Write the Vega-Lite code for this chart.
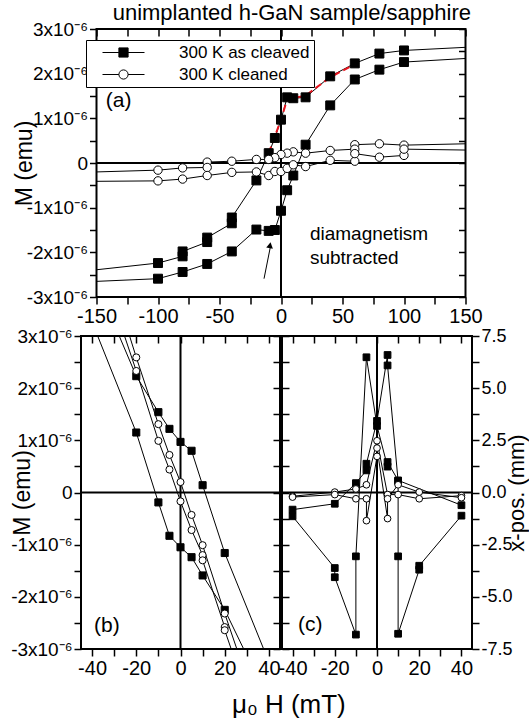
{
  "$schema": "https://vega.github.io/schema/vega-lite/v6.json",
  "padding": {"left": 9, "top": 2, "right": 0, "bottom": 2},
  "config": {
    "font": "Liberation Sans",
    "view": {"stroke": "black", "strokeWidth": 2},
    "axis": {"grid": false, "domain": false, "tickColor": "black", "tickWidth": 1.5, "tickSize": 7, "labelFont": "Liberation Sans", "labelFontSize": 20, "labelColor": "black", "labelPadding": 2, "labelFlush": false, "labelOverlap": false, "titleFont": "Liberation Sans", "titleFontSize": 23, "titleFontWeight": "normal", "titleColor": "black"},
    "axisY": {"labelFontSize": 19},
    "concat": {"spacing": 0}
  },
  "title": {"text": "unimplanted h-GaN sample/sapphire", "fontSize": 22, "fontWeight": "normal", "color": "black", "anchor": "middle", "offset": -6, "dx": 23},
  "datasets": {
    "a": [
      {"sample": "300 K as cleaved", "br": "s1", "H": 150, "M": 2.59, "meas": false},
      {"sample": "300 K as cleaved", "br": "s1", "H": 100, "M": 2.52, "meas": true},
      {"sample": "300 K as cleaved", "br": "s1", "H": 80, "M": 2.45, "meas": true},
      {"sample": "300 K as cleaved", "br": "s1", "H": 60, "M": 2.23, "meas": true},
      {"sample": "300 K as cleaved", "br": "s1", "H": 40, "M": 1.94, "meas": true},
      {"sample": "300 K as cleaved", "br": "s1", "H": 20, "M": 1.47, "meas": true},
      {"sample": "300 K as cleaved", "br": "s1", "H": 10, "M": 1.45, "meas": true},
      {"sample": "300 K as cleaved", "br": "s1", "H": 5, "M": 1.47, "meas": true},
      {"sample": "300 K as cleaved", "br": "s1", "H": 0, "M": 0.97, "meas": true},
      {"sample": "300 K as cleaved", "br": "s1", "H": -5, "M": 0.56, "meas": true},
      {"sample": "300 K as cleaved", "br": "s1", "H": -10, "M": 0.22, "meas": true},
      {"sample": "300 K as cleaved", "br": "s1", "H": -20, "M": -0.39, "meas": true},
      {"sample": "300 K as cleaved", "br": "s1", "H": -40, "M": -1.22, "meas": true},
      {"sample": "300 K as cleaved", "br": "s1", "H": -40, "M": -1.35, "meas": true},
      {"sample": "300 K as cleaved", "br": "s1", "H": -60, "M": -1.67, "meas": true},
      {"sample": "300 K as cleaved", "br": "s1", "H": -60, "M": -1.77, "meas": true},
      {"sample": "300 K as cleaved", "br": "s1", "H": -80, "M": -1.98, "meas": true},
      {"sample": "300 K as cleaved", "br": "s1", "H": -80, "M": -2.09, "meas": true},
      {"sample": "300 K as cleaved", "br": "s1", "H": -100, "M": -2.24, "meas": true},
      {"sample": "300 K as cleaved", "br": "s1", "H": -150, "M": -2.39, "meas": false},
      {"sample": "300 K as cleaved", "br": "s2", "H": -150, "M": -2.65, "meas": false},
      {"sample": "300 K as cleaved", "br": "s2", "H": -100, "M": -2.59, "meas": true},
      {"sample": "300 K as cleaved", "br": "s2", "H": -80, "M": -2.44, "meas": true},
      {"sample": "300 K as cleaved", "br": "s2", "H": -60, "M": -2.26, "meas": true},
      {"sample": "300 K as cleaved", "br": "s2", "H": -40, "M": -1.98, "meas": true},
      {"sample": "300 K as cleaved", "br": "s2", "H": -20, "M": -1.49, "meas": true},
      {"sample": "300 K as cleaved", "br": "s2", "H": -10, "M": -1.52, "meas": true},
      {"sample": "300 K as cleaved", "br": "s2", "H": -5, "M": -1.5, "meas": true},
      {"sample": "300 K as cleaved", "br": "s2", "H": 0, "M": -1.07, "meas": true},
      {"sample": "300 K as cleaved", "br": "s2", "H": 5, "M": -0.61, "meas": true},
      {"sample": "300 K as cleaved", "br": "s2", "H": 10, "M": -0.28, "meas": true},
      {"sample": "300 K as cleaved", "br": "s2", "H": 20, "M": 0.41, "meas": true},
      {"sample": "300 K as cleaved", "br": "s2", "H": 40, "M": 1.29, "meas": true},
      {"sample": "300 K as cleaved", "br": "s2", "H": 60, "M": 1.87, "meas": true},
      {"sample": "300 K as cleaved", "br": "s2", "H": 80, "M": 2.09, "meas": true},
      {"sample": "300 K as cleaved", "br": "s2", "H": 100, "M": 2.26, "meas": true},
      {"sample": "300 K as cleaved", "br": "s2", "H": 150, "M": 2.34, "meas": false},
      {"sample": "300 K cleaned", "br": "c1", "H": 150, "M": 0.43, "meas": false},
      {"sample": "300 K cleaned", "br": "c1", "H": 100, "M": 0.4, "meas": true},
      {"sample": "300 K cleaned", "br": "c1", "H": 80, "M": 0.43, "meas": true},
      {"sample": "300 K cleaned", "br": "c1", "H": 60, "M": 0.41, "meas": true},
      {"sample": "300 K cleaned", "br": "c1", "H": 60, "M": 0.31, "meas": true},
      {"sample": "300 K cleaned", "br": "c1", "H": 40, "M": 0.28, "meas": true},
      {"sample": "300 K cleaned", "br": "c1", "H": 20, "M": 0.22, "meas": true},
      {"sample": "300 K cleaned", "br": "c1", "H": 10, "M": 0.25, "meas": true},
      {"sample": "300 K cleaned", "br": "c1", "H": 5, "M": 0.22, "meas": true},
      {"sample": "300 K cleaned", "br": "c1", "H": 0, "M": 0.19, "meas": true},
      {"sample": "300 K cleaned", "br": "c1", "H": -5, "M": 0.12, "meas": true},
      {"sample": "300 K cleaned", "br": "c1", "H": -10, "M": 0.08, "meas": true},
      {"sample": "300 K cleaned", "br": "c1", "H": -20, "M": 0.08, "meas": true},
      {"sample": "300 K cleaned", "br": "c1", "H": -40, "M": 0.04, "meas": true},
      {"sample": "300 K cleaned", "br": "c1", "H": -60, "M": 0.02, "meas": true},
      {"sample": "300 K cleaned", "br": "c1", "H": -60, "M": -0.1, "meas": true},
      {"sample": "300 K cleaned", "br": "c1", "H": -80, "M": -0.11, "meas": true},
      {"sample": "300 K cleaned", "br": "c1", "H": -100, "M": -0.16, "meas": true},
      {"sample": "300 K cleaned", "br": "c1", "H": -150, "M": -0.2, "meas": false},
      {"sample": "300 K cleaned", "br": "c2", "H": -150, "M": -0.41, "meas": false},
      {"sample": "300 K cleaned", "br": "c2", "H": -100, "M": -0.4, "meas": true},
      {"sample": "300 K cleaned", "br": "c2", "H": -80, "M": -0.36, "meas": true},
      {"sample": "300 K cleaned", "br": "c2", "H": -60, "M": -0.28, "meas": true},
      {"sample": "300 K cleaned", "br": "c2", "H": -40, "M": -0.21, "meas": true},
      {"sample": "300 K cleaned", "br": "c2", "H": -20, "M": -0.2, "meas": true},
      {"sample": "300 K cleaned", "br": "c2", "H": -10, "M": -0.28, "meas": true},
      {"sample": "300 K cleaned", "br": "c2", "H": -5, "M": -0.19, "meas": true},
      {"sample": "300 K cleaned", "br": "c2", "H": 0, "M": -0.19, "meas": true},
      {"sample": "300 K cleaned", "br": "c2", "H": 5, "M": -0.12, "meas": true},
      {"sample": "300 K cleaned", "br": "c2", "H": 10, "M": -0.04, "meas": true},
      {"sample": "300 K cleaned", "br": "c2", "H": 20, "M": -0.08, "meas": true},
      {"sample": "300 K cleaned", "br": "c2", "H": 40, "M": 0.06, "meas": true},
      {"sample": "300 K cleaned", "br": "c2", "H": 60, "M": 0.04, "meas": true},
      {"sample": "300 K cleaned", "br": "c2", "H": 60, "M": 0.21, "meas": true},
      {"sample": "300 K cleaned", "br": "c2", "H": 80, "M": 0.13, "meas": true},
      {"sample": "300 K cleaned", "br": "c2", "H": 100, "M": 0.17, "meas": true},
      {"sample": "300 K cleaned", "br": "c2", "H": 100, "M": 0.31, "meas": true},
      {"sample": "300 K cleaned", "br": "c2", "H": 150, "M": 0.29, "meas": false}
    ],
    "fit": [
      {"H": -10, "M": 0.22}, {"H": 0, "M": 0.97}, {"H": 5, "M": 1.42}, {"H": 20, "M": 1.51}, {"H": 40, "M": 1.92}, {"H": 60, "M": 2.21}
    ],
    "b": [
      {"sample": "300 K as cleaved", "br": "A", "H": -40, "M": 4.23},
      {"sample": "300 K as cleaved", "br": "A", "H": -20, "M": 2.23},
      {"sample": "300 K as cleaved", "br": "A", "H": -10, "M": 1.54},
      {"sample": "300 K as cleaved", "br": "A", "H": -5, "M": 1.22},
      {"sample": "300 K as cleaved", "br": "A", "H": 0, "M": 0.97},
      {"sample": "300 K as cleaved", "br": "A", "H": 5, "M": 0.8},
      {"sample": "300 K as cleaved", "br": "A", "H": 10, "M": 0.14},
      {"sample": "300 K as cleaved", "br": "A", "H": 20, "M": -1.16},
      {"sample": "300 K as cleaved", "br": "A", "H": 40, "M": -3.25},
      {"sample": "300 K as cleaved", "br": "B", "H": -40, "M": 3.27},
      {"sample": "300 K as cleaved", "br": "B", "H": -20, "M": 1.15},
      {"sample": "300 K as cleaved", "br": "B", "H": -10, "M": -0.19},
      {"sample": "300 K as cleaved", "br": "B", "H": -5, "M": -0.83},
      {"sample": "300 K as cleaved", "br": "B", "H": 0, "M": -1.05},
      {"sample": "300 K as cleaved", "br": "B", "H": 5, "M": -1.24},
      {"sample": "300 K as cleaved", "br": "B", "H": 10, "M": -1.59},
      {"sample": "300 K as cleaved", "br": "B", "H": 20, "M": -2.25},
      {"sample": "300 K as cleaved", "br": "B", "H": 40, "M": -4.0},
      {"sample": "300 K cleaned", "br": "C", "H": -40, "M": 5.3},
      {"sample": "300 K cleaned", "br": "C", "H": -20, "M": 2.59},
      {"sample": "300 K cleaned", "br": "C", "H": -10, "M": 1.31},
      {"sample": "300 K cleaned", "br": "C", "H": -5, "M": 0.72},
      {"sample": "300 K cleaned", "br": "C", "H": 0, "M": 0.2},
      {"sample": "300 K cleaned", "br": "C", "H": 5, "M": -0.43},
      {"sample": "300 K cleaned", "br": "C", "H": 10, "M": -1.01},
      {"sample": "300 K cleaned", "br": "C", "H": 20, "M": -2.32},
      {"sample": "300 K cleaned", "br": "C", "H": 40, "M": -4.8},
      {"sample": "300 K cleaned", "br": "D", "H": -40, "M": 4.85},
      {"sample": "300 K cleaned", "br": "D", "H": -20, "M": 2.33},
      {"sample": "300 K cleaned", "br": "D", "H": -10, "M": 0.99},
      {"sample": "300 K cleaned", "br": "D", "H": -5, "M": 0.44},
      {"sample": "300 K cleaned", "br": "D", "H": 0, "M": -0.17},
      {"sample": "300 K cleaned", "br": "D", "H": 5, "M": -0.72},
      {"sample": "300 K cleaned", "br": "D", "H": 10, "M": -1.2},
      {"sample": "300 K cleaned", "br": "D", "H": 10, "M": -1.3},
      {"sample": "300 K cleaned", "br": "D", "H": 20, "M": -2.58},
      {"sample": "300 K cleaned", "br": "D", "H": 20, "M": -2.64},
      {"sample": "300 K cleaned", "br": "D", "H": 40, "M": -5.1}
    ],
    "c": [
      {"sample": "300 K as cleaved", "br": "up", "H": -40, "X": -1.14},
      {"sample": "300 K as cleaved", "br": "up", "H": -20, "X": -3.62},
      {"sample": "300 K as cleaved", "br": "up", "H": -20, "X": -4.06},
      {"sample": "300 K as cleaved", "br": "up", "H": -10, "X": -6.81},
      {"sample": "300 K as cleaved", "br": "up", "H": -10, "X": -3.06},
      {"sample": "300 K as cleaved", "br": "up", "H": -5, "X": 6.48},
      {"sample": "300 K as cleaved", "br": "up", "H": 0, "X": 3.19},
      {"sample": "300 K as cleaved", "br": "up", "H": 5, "X": 1.24},
      {"sample": "300 K as cleaved", "br": "up", "H": 5, "X": 1.46},
      {"sample": "300 K as cleaved", "br": "up", "H": 10, "X": 0.58},
      {"sample": "300 K as cleaved", "br": "up", "H": 40, "X": -0.61},
      {"sample": "300 K as cleaved", "br": "dn", "H": 40, "X": -1.11},
      {"sample": "300 K as cleaved", "br": "dn", "H": 20, "X": -3.51},
      {"sample": "300 K as cleaved", "br": "dn", "H": 20, "X": -3.7},
      {"sample": "300 K as cleaved", "br": "dn", "H": 10, "X": -6.77},
      {"sample": "300 K as cleaved", "br": "dn", "H": 10, "X": -3.06},
      {"sample": "300 K as cleaved", "br": "dn", "H": 10, "X": 0.54},
      {"sample": "300 K as cleaved", "br": "dn", "H": 5, "X": 6.09},
      {"sample": "300 K as cleaved", "br": "dn", "H": 5, "X": 6.59},
      {"sample": "300 K as cleaved", "br": "dn", "H": 0, "X": 3.43},
      {"sample": "300 K as cleaved", "br": "dn", "H": -5, "X": 1.38},
      {"sample": "300 K as cleaved", "br": "dn", "H": -5, "X": 1.06},
      {"sample": "300 K as cleaved", "br": "dn", "H": -10, "X": 0.45},
      {"sample": "300 K as cleaved", "br": "dn", "H": -20, "X": -0.54},
      {"sample": "300 K as cleaved", "br": "dn", "H": -40, "X": -0.82},
      {"sample": "300 K cleaned", "br": "cup", "H": -40, "X": -0.18},
      {"sample": "300 K cleaned", "br": "cup", "H": -20, "X": 0.02},
      {"sample": "300 K cleaned", "br": "cup", "H": -10, "X": 0.17},
      {"sample": "300 K cleaned", "br": "cup", "H": -5, "X": 0.37},
      {"sample": "300 K cleaned", "br": "cup", "H": 0, "X": 2.48},
      {"sample": "300 K cleaned", "br": "cup", "H": 5, "X": -0.1},
      {"sample": "300 K cleaned", "br": "cup", "H": 10, "X": -0.1},
      {"sample": "300 K cleaned", "br": "cup", "H": 20, "X": -0.3},
      {"sample": "300 K cleaned", "br": "cup", "H": 40, "X": -0.15},
      {"sample": "300 K cleaned", "br": "cdn", "H": 40, "X": -0.25},
      {"sample": "300 K cleaned", "br": "cdn", "H": 20, "X": 0.02},
      {"sample": "300 K cleaned", "br": "cdn", "H": 10, "X": 0.37},
      {"sample": "300 K cleaned", "br": "cdn", "H": 5, "X": -0.3},
      {"sample": "300 K cleaned", "br": "cdn", "H": 5, "X": -1.25},
      {"sample": "300 K cleaned", "br": "cdn", "H": 0, "X": 2.13},
      {"sample": "300 K cleaned", "br": "cdn", "H": 0, "X": 1.73},
      {"sample": "300 K cleaned", "br": "cdn", "H": -5, "X": -1.35},
      {"sample": "300 K cleaned", "br": "cdn", "H": -5, "X": -0.3},
      {"sample": "300 K cleaned", "br": "cdn", "H": -10, "X": -0.3},
      {"sample": "300 K cleaned", "br": "cdn", "H": -20, "X": -0.1},
      {"sample": "300 K cleaned", "br": "cdn", "H": -40, "X": -0.22}
    ]
  },
  "spacing": -1,
  "vconcat": [
    {
      "spacing": -70.5,
      "hconcat": [
        {
          "width": 1,
          "height": 1,
          "view": {"stroke": null},
          "data": {"values": [{}]},
          "mark": {"type": "text", "text": ""},
          "encoding": {}
        },
        {
          "width": 369,
          "height": 268,
          "resolve": {"axis": {"x": "independent", "y": "independent"}},
          "layer": [
            {
              "data": {"values": [{}]},
              "mark": {"type": "rule", "color": "black", "strokeWidth": 2},
              "encoding": {"y": {"datum": 0, "type": "quantitative", "axis": null}}
            },
            {
              "data": {"values": [{}]},
              "mark": {"type": "rule", "color": "black", "strokeWidth": 2},
              "encoding": {"x": {"datum": 0, "type": "quantitative", "axis": null}}
            },
            {
              "data": {"name": "a"},
              "mark": {"type": "line", "color": "black", "strokeWidth": 1, "clip": true},
              "encoding": {
                "x": {"field": "H", "type": "quantitative", "scale": {"domain": [-150, 150], "nice": false, "zero": false},
                  "axis": {"orient": "bottom", "title": null, "values": [-150, -125, -100, -75, -50, -25, 0, 25, 50, 75, 100, 125, 150], "labelExpr": "datum.value % 50 == 0 ? '' + datum.value : ''"}},
                "y": {"field": "M", "type": "quantitative", "scale": {"domain": [-3, 3], "nice": false, "zero": false},
                  "axis": {"orient": "left", "title": "M (emu)", "titlePadding": -10, "values": [-3, -2.5, -2, -1.5, -1, -0.5, 0, 0.5, 1, 1.5, 2, 2.5, 3], "labelExpr": "datum.value % 1 != 0 ? '' : (datum.value == 0 ? '0' : datum.value + 'x10\u207b\u2076')"}},
                "detail": {"field": "br"},
                "order": {"value": null}
              }
            },
            {
              "data": {"name": "fit"},
              "mark": {"type": "line", "color": "#e8141e", "strokeWidth": 2, "strokeDash": [7, 4]},
              "encoding": {
                "x": {"field": "H", "type": "quantitative", "axis": null},
                "y": {"field": "M", "type": "quantitative", "axis": null},
                "order": {"value": null}
              }
            },
            {
              "data": {"name": "a"},
              "transform": [{"filter": "datum.meas && datum.sample == '300 K as cleaved'"}],
              "mark": {"type": "point", "shape": "square", "filled": true, "fill": "black", "stroke": "black", "strokeWidth": 1, "opacity": 1, "size": 80},
              "encoding": {
                "x": {"field": "H", "type": "quantitative",
                  "axis": {"orient": "top", "title": null, "labels": false, "tickSize": -7, "values": [-150, -125, -100, -75, -50, -25, 0, 25, 50, 75, 100, 125, 150]}},
                "y": {"field": "M", "type": "quantitative",
                  "axis": {"orient": "right", "title": null, "labels": false, "tickSize": -7, "values": [-3, -2.5, -2, -1.5, -1, -0.5, 0, 0.5, 1, 1.5, 2, 2.5, 3]}}
              }
            },
            {
              "data": {"name": "a"},
              "transform": [{"filter": "datum.meas && datum.sample == '300 K cleaned'"}],
              "mark": {"type": "point", "shape": "circle", "filled": true, "fill": "white", "stroke": "black", "strokeWidth": 1, "opacity": 1, "size": 70},
              "encoding": {
                "x": {"field": "H", "type": "quantitative", "axis": null},
                "y": {"field": "M", "type": "quantitative", "axis": null}
              }
            },
            {
              "data": {"name": "a"},
              "transform": [{"filter": "false"}],
              "mark": {"type": "point", "filled": true, "strokeWidth": 1, "opacity": 1},
              "encoding": {
                "x": {"field": "H", "type": "quantitative", "axis": null},
                "y": {"field": "M", "type": "quantitative", "axis": null},
                "shape": {"field": "sample", "type": "nominal",
                  "scale": {"domain": ["300 K as cleaved", "300 K cleaned"], "range": ["M-4.2,0H-0.92M0.92,0H4.2M-0.92,-0.92H0.92V0.92H-0.92Z", "M-4.2,0H-0.92M0.92,0H4.2M0.92,0A0.92,0.92,0,1,1,-0.92,0A0.92,0.92,0,1,1,0.92,0Z"]},
                  "legend": {"title": null, "orient": "none", "legendX": 5, "legendY": 11, "padding": 4, "strokeColor": "black", "fillColor": "white", "symbolSize": 100, "symbolStrokeWidth": 1, "symbolOpacity": 1, "symbolOffset": 25, "labelOffset": 47, "labelFontSize": 17, "labelColor": "black", "rowPadding": 4}},
                "fill": {"field": "sample", "type": "nominal",
                  "scale": {"domain": ["300 K as cleaved", "300 K cleaned"], "range": ["black", "white"]},
                  "legend": {"title": null, "orient": "none", "legendX": 5, "legendY": 11, "padding": 4, "strokeColor": "black", "fillColor": "white", "symbolSize": 100, "symbolStrokeWidth": 1, "symbolOpacity": 1, "symbolOffset": 25, "labelOffset": 47, "labelFontSize": 17, "labelColor": "black", "rowPadding": 4}},
                "stroke": {"field": "sample", "type": "nominal",
                  "scale": {"domain": ["300 K as cleaved", "300 K cleaned"], "range": ["black", "black"]},
                  "legend": {"title": null, "orient": "none", "legendX": 5, "legendY": 11, "padding": 4, "strokeColor": "black", "fillColor": "white", "symbolSize": 100, "symbolStrokeWidth": 1, "symbolOpacity": 1, "symbolOffset": 25, "labelOffset": 47, "labelFontSize": 17, "labelColor": "black", "rowPadding": 4}}
              }
            },
            {
              "data": {"values": [{}]},
              "mark": {"type": "rule", "color": "black", "strokeWidth": 1},
              "encoding": {
                "x": {"datum": -13.8, "type": "quantitative", "axis": null},
                "y": {"datum": -2.59, "type": "quantitative", "axis": null},
                "x2": {"datum": -8.8},
                "y2": {"datum": -1.9}
              }
            },
            {
              "data": {"values": [{}]},
              "mark": {"type": "point", "shape": "triangle-up", "filled": true, "color": "black", "opacity": 1, "size": 45, "angle": 10},
              "encoding": {
                "x": {"datum": -8.9, "type": "quantitative", "axis": null},
                "y": {"datum": -1.84, "type": "quantitative", "axis": null}
              }
            },
            {
              "data": {"values": [{}]},
              "mark": {"type": "text", "text": "(a)", "fontSize": 21, "color": "black", "align": "center", "baseline": "middle"},
              "encoding": {
                "x": {"datum": -132, "type": "quantitative", "axis": null},
                "y": {"datum": 1.38, "type": "quantitative", "axis": null}
              }
            },
            {
              "data": {"values": [{}]},
              "mark": {"type": "text", "text": ["diamagnetism", "subtracted"], "lineHeight": 23.7, "fontSize": 19, "color": "black", "align": "left", "baseline": "alphabetic"},
              "encoding": {
                "x": {"datum": 23.5, "type": "quantitative", "axis": null},
                "y": {"datum": -1.73, "type": "quantitative", "axis": null}
              }
            }
          ]
        }
      ]
    },
    {
      "spacing": -8,
      "title": {"text": "\u03bc\u2080 H (mT)", "orient": "bottom", "fontSize": 26, "fontWeight": "normal", "color": "black", "anchor": "middle", "offset": 13, "dx": 20},
      "hconcat": [
        {
          "width": 199,
          "height": 313,
          "resolve": {"axis": {"x": "independent", "y": "independent"}},
          "layer": [
            {
              "data": {"values": [{}]},
              "mark": {"type": "rule", "color": "black", "strokeWidth": 2},
              "encoding": {"y": {"datum": 0, "type": "quantitative", "axis": null}}
            },
            {
              "data": {"values": [{}]},
              "mark": {"type": "rule", "color": "black", "strokeWidth": 2},
              "encoding": {"x": {"datum": 0, "type": "quantitative", "axis": null}}
            },
            {
              "data": {"name": "b"},
              "mark": {"type": "line", "color": "black", "strokeWidth": 1, "clip": true},
              "encoding": {
                "x": {"field": "H", "type": "quantitative", "scale": {"domain": [-45, 45], "nice": false, "zero": false},
                  "axis": {"orient": "bottom", "title": null, "values": [-40, -30, -20, -10, 0, 10, 20, 30, 40], "labelExpr": "datum.value % 20 == 0 ? '' + datum.value : ''"}},
                "y": {"field": "M", "type": "quantitative", "scale": {"domain": [-3, 3], "nice": false, "zero": false},
                  "axis": {"orient": "left", "title": "M (emu)", "titlePadding": -23.5, "values": [-3, -2.5, -2, -1.5, -1, -0.5, 0, 0.5, 1, 1.5, 2, 2.5, 3], "labelExpr": "datum.value % 1 != 0 ? '' : (datum.value == 0 ? '0' : datum.value + 'x10\u207b\u2076')"}},
                "detail": {"field": "br"},
                "order": {"value": null}
              }
            },
            {
              "data": {"name": "b"},
              "transform": [{"filter": "datum.sample == '300 K as cleaved'"}],
              "mark": {"type": "point", "shape": "square", "filled": true, "fill": "black", "stroke": "black", "strokeWidth": 1, "opacity": 1, "size": 50, "clip": true},
              "encoding": {
                "x": {"field": "H", "type": "quantitative",
                  "axis": {"orient": "top", "title": null, "labels": false, "tickSize": -7, "values": [-40, -30, -20, -10, 0, 10, 20, 30, 40]}},
                "y": {"field": "M", "type": "quantitative",
                  "axis": {"orient": "right", "title": null, "labels": false, "tickSize": -7, "values": [-3, -2.5, -2, -1.5, -1, -0.5, 0, 0.5, 1, 1.5, 2, 2.5, 3]}}
              }
            },
            {
              "data": {"name": "b"},
              "transform": [{"filter": "datum.sample == '300 K cleaned'"}],
              "mark": {"type": "point", "shape": "circle", "filled": true, "fill": "white", "stroke": "black", "strokeWidth": 1, "opacity": 1, "size": 50, "clip": true},
              "encoding": {
                "x": {"field": "H", "type": "quantitative", "axis": null},
                "y": {"field": "M", "type": "quantitative", "axis": null}
              }
            },
            {
              "data": {"values": [{}]},
              "mark": {"type": "text", "text": "(b)", "fontSize": 21, "color": "black", "align": "center", "baseline": "middle"},
              "encoding": {
                "x": {"datum": -33.3, "type": "quantitative", "axis": null},
                "y": {"datum": -2.56, "type": "quantitative", "axis": null}
              }
            }
          ]
        },
        {
          "width": 190,
          "height": 313,
          "resolve": {"axis": {"x": "independent", "y": "independent"}},
          "layer": [
            {
              "data": {"values": [{}]},
              "mark": {"type": "rule", "color": "black", "strokeWidth": 2},
              "encoding": {"y": {"datum": 0, "type": "quantitative", "axis": null}}
            },
            {
              "data": {"values": [{}]},
              "mark": {"type": "rule", "color": "black", "strokeWidth": 2},
              "encoding": {"x": {"datum": 0, "type": "quantitative", "axis": null}}
            },
            {
              "data": {"name": "c"},
              "mark": {"type": "line", "color": "black", "strokeWidth": 1, "clip": true},
              "encoding": {
                "x": {"field": "H", "type": "quantitative", "scale": {"domain": [-45, 45], "nice": false, "zero": false},
                  "axis": {"orient": "bottom", "title": null, "values": [-40, -30, -20, -10, 0, 10, 20, 30, 40], "labelExpr": "datum.value % 20 == 0 ? '' + datum.value : ''"}},
                "y": {"field": "X", "type": "quantitative", "scale": {"domain": [-7.5, 7.5], "nice": false, "zero": false},
                  "axis": {"orient": "right", "title": "x-pos. (mm)", "titleAngle": 270, "titleBaseline": "top", "titlePadding": -6, "titleFontSize": 22, "labelFontSize": 18, "values": [-7.5, -6.25, -5, -3.75, -2.5, -1.25, 0, 1.25, 2.5, 3.75, 5, 6.25, 7.5], "labelExpr": "abs(datum.value / 2.5 - round(datum.value / 2.5)) > 0.01 ? '' : replace(format(datum.value, '.1f'), '\u2212', '-')"}},
                "detail": {"field": "br"},
                "order": {"value": null}
              }
            },
            {
              "data": {"name": "c"},
              "transform": [{"filter": "datum.sample == '300 K as cleaved'"}],
              "mark": {"type": "point", "shape": "square", "filled": true, "fill": "black", "stroke": "black", "strokeWidth": 1, "opacity": 1, "size": 45, "clip": true},
              "encoding": {
                "x": {"field": "H", "type": "quantitative",
                  "axis": {"orient": "top", "title": null, "labels": false, "tickSize": -7, "values": [-40, -30, -20, -10, 0, 10, 20, 30, 40]}},
                "y": {"field": "X", "type": "quantitative",
                  "axis": {"orient": "left", "title": null, "labels": false, "tickSize": -7, "values": [-7.5, -6.25, -5, -3.75, -2.5, -1.25, 0, 1.25, 2.5, 3.75, 5, 6.25, 7.5]}}
              }
            },
            {
              "data": {"name": "c"},
              "transform": [{"filter": "datum.sample == '300 K cleaned'"}],
              "mark": {"type": "point", "shape": "circle", "filled": true, "fill": "white", "stroke": "black", "strokeWidth": 1, "opacity": 1, "size": 45, "clip": true},
              "encoding": {
                "x": {"field": "H", "type": "quantitative", "axis": null},
                "y": {"field": "X", "type": "quantitative", "axis": null}
              }
            },
            {
              "data": {"values": [{}]},
              "mark": {"type": "text", "text": "(c)", "fontSize": 21, "color": "black", "align": "center", "baseline": "middle"},
              "encoding": {
                "x": {"datum": -31.6, "type": "quantitative", "axis": null},
                "y": {"datum": -6.35, "type": "quantitative", "axis": null}
              }
            }
          ]
        }
      ]
    }
  ]
}
